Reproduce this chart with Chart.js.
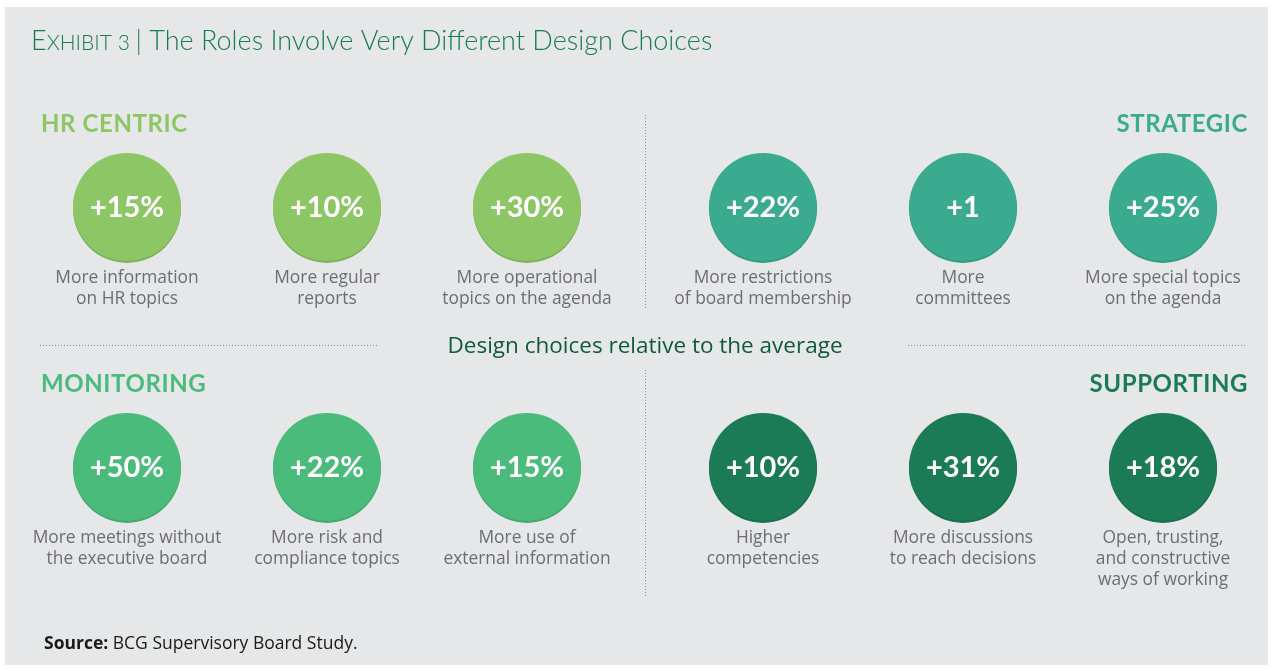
<!DOCTYPE html>
<html lang="en">
<head>
  <meta charset="UTF-8">
  <title>The Roles Involve Very Different Design Choices</title>
  <script src="https://cdn.jsdelivr.net/npm/chart.js"></script>
  <style>
    html, body { margin: 0; padding: 0; background: #fff; }
    #wrap { width: 1273px; height: 671px; position: relative; }
  </style>
</head>
<body>
  <div id="wrap"><canvas id="rolesChart"></canvas></div>

  <script>
    // chart data
    const groups = ['HR CENTRIC', 'STRATEGIC', 'MONITORING', 'SUPPORTING'];
    const groupColors = ['#8cc665', '#3aab8e', '#4bbb7c', '#1b7b56'];
    const values = [15, 10, 30, 22, 1, 25, 50, 22, 15, 10, 31, 18];
    const units = ['%', '%', '%', '%', '', '%', '%', '%', '%', '%', '%', '%'];
    const groupOfItem = [0, 0, 0, 1, 1, 1, 2, 2, 2, 3, 3, 3];
    const itemLabels = [
      ['More information', 'on HR topics'],
      ['More regular', 'reports'],
      ['More operational', 'topics on the agenda'],
      ['More restrictions', 'of board membership'],
      ['More', 'committees'],
      ['More special topics', 'on the agenda'],
      ['More meetings without', 'the executive board'],
      ['More risk and', 'compliance topics'],
      ['More use of', 'external information'],
      ['Higher', 'competencies'],
      ['More discussions', 'to reach decisions'],
      ['Open, trusting,', 'and constructive', 'ways of working']
    ];
    const centerText = 'Design choices relative to the average';
    const sourceText = 'BCG Supervisory Board Study.';

    const FONT = 'Lato, "Open Sans", sans-serif';
    const BODY = '"Open Sans", Lato, sans-serif';

    // column index with a small gap between left and right halves
    const points = values.map((v, i) => {
      const col = i % 6;
      return { x: col + (col >= 3 ? 0.18 : 0), y: Math.floor(i / 6) };
    });

    function darker(hex, f) {
      const n = parseInt(hex.slice(1), 16);
      const r = Math.round(((n >> 16) & 255) * f);
      const g = Math.round(((n >> 8) & 255) * f);
      const b = Math.round((n & 255) * f);
      return `rgb(${r},${g},${b})`;
    }

    const decorPlugin = {
      id: 'decor',
      beforeDraw(chart) {
        const ctx = chart.ctx;
        ctx.save();
        ctx.fillStyle = '#ffffff';
        ctx.fillRect(0, 0, chart.width, chart.height);
        ctx.fillStyle = '#e6e7e8';
        ctx.fillRect(5, 7, 1263, 658);
        ctx.restore();
      },
      beforeDatasetsDraw(chart) {
        // soft shadow under each circle
        const ctx = chart.ctx;
        const meta = chart.getDatasetMeta(0);
        ctx.save();
        meta.data.forEach((pt, i) => {
          ctx.beginPath();
          ctx.arc(pt.x, pt.y + 2, 54, 0, Math.PI * 2);
          ctx.fillStyle = darker(groupColors[groupOfItem[i]], 0.9);
          ctx.fill();
        });
        ctx.restore();
      },
      afterDatasetsDraw(chart) {
        const ctx = chart.ctx;
        const meta = chart.getDatasetMeta(0);
        const xs = chart.scales.x;
        const ys = chart.scales.y;
        ctx.save();

        // title
        ctx.textBaseline = 'alphabetic';
        ctx.textAlign = 'left';
        ctx.fillStyle = '#197a56';
        let tx = 31;
        ctx.font = '300 27px ' + FONT;
        ctx.fillText('E', tx, 50);
        tx += ctx.measureText('E').width;
        ctx.font = '300 21px ' + FONT;
        ctx.fillText('XHIBIT 3', tx, 50);
        tx += ctx.measureText('XHIBIT 3 ').width;
        ctx.font = '300 27px ' + FONT;
        ctx.fillText('| The Roles Involve Very Different Design Choices', tx, 50);

        // points: value + labels
        meta.data.forEach((pt, i) => {
          ctx.fillStyle = '#ffffff';
          ctx.font = 'bold 29px ' + FONT;
          ctx.textAlign = 'center';
          ctx.textBaseline = 'middle';
          ctx.fillText('+' + values[i] + units[i], pt.x, pt.y + 1);

          ctx.fillStyle = '#6d6e71';
          ctx.font = '17.4px ' + BODY;
          itemLabels[i].forEach((line, k) => {
            ctx.fillText(line, pt.x, pt.y + 71 + k * 21);
          });
        });

        // group headings
        ctx.font = 'bold 24px ' + FONT;
        ctx.letterSpacing = '0.6px';
        ctx.textBaseline = 'middle';
        groups.forEach((g, gi) => {
          const row = gi < 2 ? 0 : 1;
          const y = ys.getPixelForValue(row) - 83;
          ctx.fillStyle = groupColors[gi];
          if (gi % 2 === 0) {
            ctx.textAlign = 'left';
            ctx.fillText(g, 41, y);
          } else {
            ctx.textAlign = 'right';
            ctx.fillText(g, 1248, y);
          }
        });
        ctx.letterSpacing = '0px';

        // divider lines
        const midX = (xs.getPixelForValue(2) + xs.getPixelForValue(3.18)) / 2;
        const midY = (ys.getPixelForValue(0) + ys.getPixelForValue(1)) / 2 + 8;
        ctx.strokeStyle = '#8a8c8e';
        ctx.lineWidth = 1;
        ctx.setLineDash([1, 2]);
        ctx.beginPath();
        ctx.moveTo(midX + 0.5, 115); ctx.lineTo(midX + 0.5, 310);
        ctx.moveTo(midX + 0.5, 370); ctx.lineTo(midX + 0.5, 598);
        ctx.moveTo(40, midY + 0.5); ctx.lineTo(378, midY + 0.5);
        ctx.moveTo(908, midY + 0.5); ctx.lineTo(1247, midY + 0.5);
        ctx.stroke();
        ctx.setLineDash([]);

        ctx.fillStyle = '#0e5a3b';
        ctx.font = '22.5px ' + BODY;
        ctx.textAlign = 'center';
        ctx.fillText(centerText, midX, midY + 2);

        // source
        ctx.textAlign = 'left';
        ctx.fillStyle = '#1a1a1a';
        ctx.font = 'bold 17.5px ' + BODY;
        ctx.fillText('Source:', 44, 644);
        const sw = ctx.measureText('Source: ').width;
        ctx.font = '17.5px ' + BODY;
        ctx.fillText(sourceText, 44 + sw, 644);

        ctx.restore();
      }
    };

    const ctx = document.getElementById('rolesChart').getContext('2d');
    new Chart(ctx, {
      type: 'scatter',
      data: {
        datasets: [{
          data: points,
          backgroundColor: groupOfItem.map(g => groupColors[g]),
          borderWidth: 0,
          pointRadius: 54,
          pointHoverRadius: 54
        }]
      },
      options: {
        responsive: true,
        maintainAspectRatio: false,
        animation: false,
        events: [],
        layout: { padding: 0, autoPadding: false },
        plugins: {
          legend: { display: false },
          tooltip: { enabled: false }
        },
        scales: {
          x: { type: 'linear', display: false, min: -0.635, max: 5.73 },
          y: { type: 'linear', display: false, reverse: true, min: -0.796, max: 1.785 }
        }
      },
      plugins: [decorPlugin]
    });
  </script>
</body>
</html>
